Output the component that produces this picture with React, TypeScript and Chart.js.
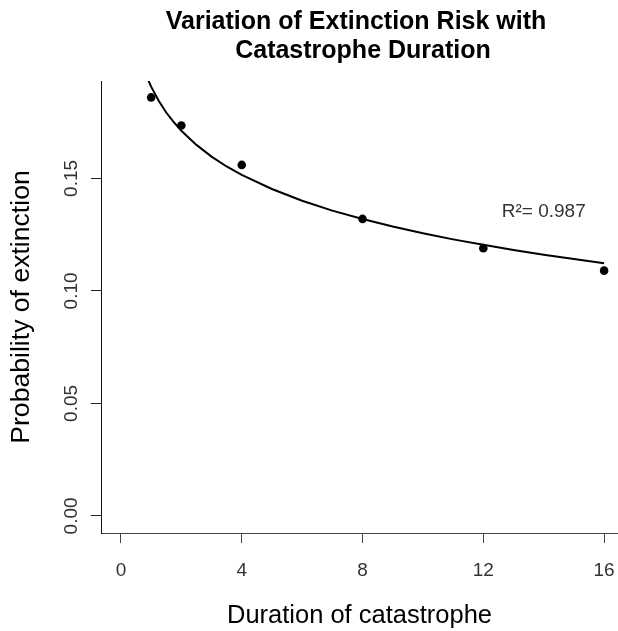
import React, { useEffect, useRef } from "react";
import { Chart, registerables } from "chart.js";

Chart.register(...registerables);

// Observed data points (duration of catastrophe vs probability of extinction)
const durations = [1, 2, 4, 8, 12, 16];
const extinctionProb = [0.186, 0.1735, 0.156, 0.132, 0.119, 0.109];

// Fitted curve, values
const fitX = [0.85, 1, 1.25, 1.5, 1.75, 2, 2.5, 3, 3.5, 4, 5, 6, 7, 8, 9, 10, 11, 12, 13, 14, 15, 16];
const fitY = [0.1954, 0.1908, 0.1845, 0.1793, 0.175, 0.1712, 0.1649, 0.1597, 0.1553, 0.1516, 0.1453, 0.1401, 0.1357, 0.132, 0.1286, 0.1256, 0.1229, 0.1205, 0.1182, 0.1161, 0.1142, 0.1123];

// Axis ticks
const xTicks = [0, 4, 8, 12, 16];
const xTickLabels = ["0", "4", "8", "12", "16"];
const yTicks = [0, 0.05, 0.1, 0.15];
const yTickLabels = ["0.00", "0.05", "0.10", "0.15"];

// Texts
const titleLines = ["Variation of Extinction Risk with ", " Catastrophe Duration"];
const xTitle = "Duration of catastrophe";
const yTitle = "Probability of extinction";
const r2Label = "R\u00b2= 0.987";
const r2Pos = { x: 14, y: 0.135 };

const FONT = "'Liberation Sans', Arial, sans-serif";

export default function App() {
  const ref = useRef<HTMLCanvasElement | null>(null);

  useEffect(() => {
    const canvas = ref.current;
    if (!canvas) return;

    const r2Plugin = {
      id: "r2Label",
      afterDatasetsDraw(chart: any) {
        const { ctx, scales } = chart;
        const px = scales.x.getPixelForValue(r2Pos.x);
        const py = scales.y.getPixelForValue(r2Pos.y);
        ctx.save();
        ctx.font = `19px ${FONT}`;
        ctx.fillStyle = "#333";
        ctx.textAlign = "center";
        ctx.textBaseline = "middle";
        ctx.fillText(r2Label, px, py);
        ctx.restore();
      },
    };

    const chart = new Chart(canvas, {
      type: "scatter",
      data: {
        datasets: [
          {
            label: "fit",
            data: fitX.map((x, i) => ({ x, y: fitY[i] })),
            showLine: true,
            borderColor: "#000",
            borderWidth: 2,
            pointRadius: 0,
            tension: 0,
            clip: 0,
          } as any,
          {
            label: "observed",
            data: durations.map((x, i) => ({ x, y: extinctionProb[i] })),
            pointRadius: 4.3,
            pointBorderWidth: 0,
            backgroundColor: "#000",
            borderColor: "#000",
          },
        ],
      },
      options: {
        animation: false,
        responsive: false,
        devicePixelRatio: 1,
        events: [],
        layout: { padding: 0, autoPadding: false },
        plugins: {
          legend: { display: false },
          tooltip: { enabled: false },
          title: {
            display: true,
            text: titleLines,
            fullSize: false,
            color: "#000",
            font: { family: FONT, size: 25, weight: "bold", lineHeight: 1.16 },
            padding: { top: 7.5, bottom: 15.5 },
          },
        },
        scales: {
          x: {
            type: "linear",
            min: -0.66,
            max: 16.46,
            afterBuildTicks: (scale: any) => {
              scale.ticks = xTicks.map((v) => ({ value: v }));
            },
            afterFit: (scale: any) => {
              scale.height = 98;
              scale.paddingLeft = 0;
              scale.paddingRight = 0;
            },
            grid: { drawOnChartArea: false, drawTicks: true, tickLength: 10, tickColor: "#444", tickWidth: 1 },
            border: { display: true, color: "#444", width: 1 },
            ticks: {
              color: "#333",
              font: { family: FONT, size: 19 },
              padding: 16,
              maxRotation: 0,
              minRotation: 0,
              callback: (_v: any, i: number) => xTickLabels[i],
            },
            title: {
              display: true,
              text: xTitle,
              color: "#000",
              font: { family: FONT, size: 25.5, lineHeight: 1 },
              padding: { top: 0, bottom: 2 },
            },
          },
          y: {
            type: "linear",
            min: -0.0076,
            max: 0.1933,
            afterBuildTicks: (scale: any) => {
              scale.ticks = yTicks.map((v) => ({ value: v }));
            },
            afterFit: (scale: any) => {
              scale.width = 101;
              scale.paddingTop = 0;
              scale.paddingBottom = 0;
            },
            grid: { drawOnChartArea: false, drawTicks: true, tickLength: 10, tickColor: "#222", tickWidth: 1 },
            border: { display: true, color: "#111", width: 1 },
            ticks: {
              color: "#333",
              font: { family: FONT, size: 19 },
              padding: 0.5,
              minRotation: 90,
              maxRotation: 90,
              crossAlign: "center",
              callback: (_v: any, i: number) => yTickLabels[i],
            },
            title: {
              display: true,
              text: yTitle,
              color: "#000",
              font: { family: FONT, size: 26.6, lineHeight: 1 },
              padding: { top: 8.7, bottom: 0 },
            },
          },
        },
      } as any,
      plugins: [r2Plugin],
    });

    return () => chart.destroy();
  }, []);

  return (
    <canvas
      ref={ref}
      width={618}
      height={631}
      style={{ position: "fixed", left: 0, top: 0, width: 618, height: 631, background: "#fff" }}
    />
  );
}
